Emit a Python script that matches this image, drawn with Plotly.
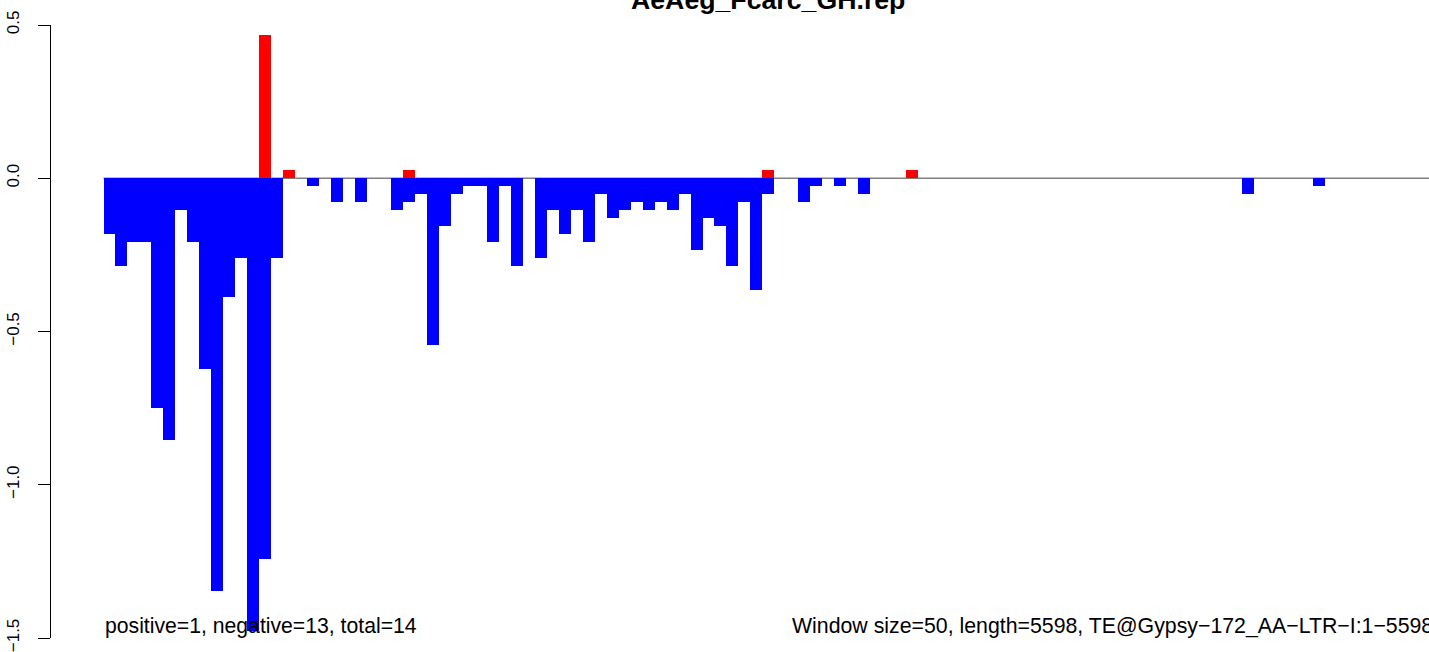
import plotly.graph_objects as go

# ---- data ----
windows = list(range(112))  # window index, window size 50, length 5598

negative_vals = [
    -0.181, -0.285, -0.207, -0.207, -0.751, -0.855, -0.104, -0.207, -0.622, -1.347,
    -0.389, -0.259, -1.476, -1.243, -0.259, 0.0, 0.0, -0.026, 0.0, -0.078,
    0.0, -0.078, 0.0, 0.0, -0.104, -0.078, -0.052, -0.544, -0.155, -0.052,
    -0.026, -0.026, -0.207, -0.026, -0.285, 0.0, -0.259, -0.104, -0.181, -0.104,
    -0.207, -0.052, -0.130, -0.104, -0.078, -0.104, -0.078, -0.104, -0.052, -0.233,
    -0.130, -0.155, -0.285, -0.078, -0.363, -0.052, 0.0, 0.0, -0.078, -0.026,
    0.0, -0.026, 0.0, -0.052, 0.0, 0.0, 0.0, 0.0, 0.0, 0.0,
    0.0, 0.0, 0.0, 0.0, 0.0, 0.0, 0.0, 0.0, 0.0, 0.0,
    0.0, 0.0, 0.0, 0.0, 0.0, 0.0, 0.0, 0.0, 0.0, 0.0,
    0.0, 0.0, 0.0, 0.0, 0.0, -0.052, 0.0, 0.0, 0.0, 0.0,
    0.0, -0.026, 0.0, 0.0, 0.0, 0.0, 0.0, 0.0, 0.0, 0.0,
    0.0, 0.0,
]

positive_vals = [0.0] * 112
positive_windows = [13, 15, 25, 55, 67]
positive_heights = [0.466, 0.026, 0.026, 0.026, 0.026]
for w, h in zip(positive_windows, positive_heights):
    positive_vals[w] = h

ytick_vals = [-1.5, -1.0, -0.5, 0.0, 0.5]
ytick_text = ["\u22121.5", "\u22121.0", "\u22120.5", "0.0", "0.5"]

title_text = "AeAeg_Fcarc_GH.rep"
left_note = "positive=1, negative=13, total=14"
right_note = "Window size=50, length=5598, TE@Gypsy\u2212172_AA\u2212LTR\u2212I:1\u22125598"

# ---- layout geometry (pixels) ----
W, H = 1429, 652
L, R = 51, 0
T, B = 24.5, 11.5
plot_w = W - L - R
plot_h = H - T - B
bar_px = 11.98
first_center_px = 109.5


def px_to_xdata(px):
    return (px - first_center_px) / bar_px


def px_to_paper_x(px):
    return (px - L) / plot_w


def py_to_paper_y(py):
    return (H - B - py) / plot_h


FONT = "Liberation Sans, Arial, Helvetica, sans-serif"

fig = go.Figure()
fig.add_trace(go.Bar(x=windows, y=negative_vals, marker=dict(color="#0000FF", line=dict(width=0)),
                     width=1.0, showlegend=False, hoverinfo="x+y"))
fig.add_trace(go.Bar(x=windows, y=positive_vals, marker=dict(color="#FF0000", line=dict(width=0)),
                     width=1.0, showlegend=False, hoverinfo="x+y"))

# baseline at zero
fig.add_shape(type="line", xref="x", yref="y", x0=-0.5, x1=px_to_xdata(W) + 1, y0=0, y1=0,
              line=dict(color="#7f7f7f", width=1.5), layer="below")

fig.add_annotation(text=f"<b>{title_text}</b>", xref="paper", yref="paper",
                   x=px_to_paper_x(768), y=py_to_paper_y(-1), xanchor="center", yanchor="middle",
                   showarrow=False, font=dict(family=FONT, size=26.7, color="black"))
fig.add_annotation(text=left_note, xref="paper", yref="paper",
                   x=px_to_paper_x(103), y=py_to_paper_y(628), xanchor="left", yanchor="middle",
                   showarrow=False, font=dict(family=FONT, size=21.2, color="black"))
fig.add_annotation(text=right_note, xref="paper", yref="paper",
                   x=px_to_paper_x(790), y=py_to_paper_y(628), xanchor="left", yanchor="middle",
                   showarrow=False, font=dict(family=FONT, size=21.3, color="black"))

fig.update_layout(
    width=W, height=H,
    margin=dict(l=L, r=R, t=T, b=B, pad=0),
    paper_bgcolor="white", plot_bgcolor="white",
    barmode="relative", bargap=0,
    xaxis=dict(range=[px_to_xdata(L), px_to_xdata(W)], visible=False, fixedrange=True),
    yaxis=dict(range=[-1.5, 0.5], tickvals=ytick_vals, ticktext=ytick_text,
               tickangle=-90, ticks="outside", ticklen=12, tickwidth=1.2, tickcolor="black",
               showline=True, linecolor="black", linewidth=1.2,
               showgrid=False, zeroline=False,
               ticklabelstandoff=12, ticklabeloverflow="allow",
               tickfont=dict(family=FONT, size=17, color="black")),
    showlegend=False,
)

fig.write_html(
    "out.html",
    config={"displayModeBar": False},
    post_script="document.body.style.margin='0px';document.body.style.overflow='hidden';",
)
